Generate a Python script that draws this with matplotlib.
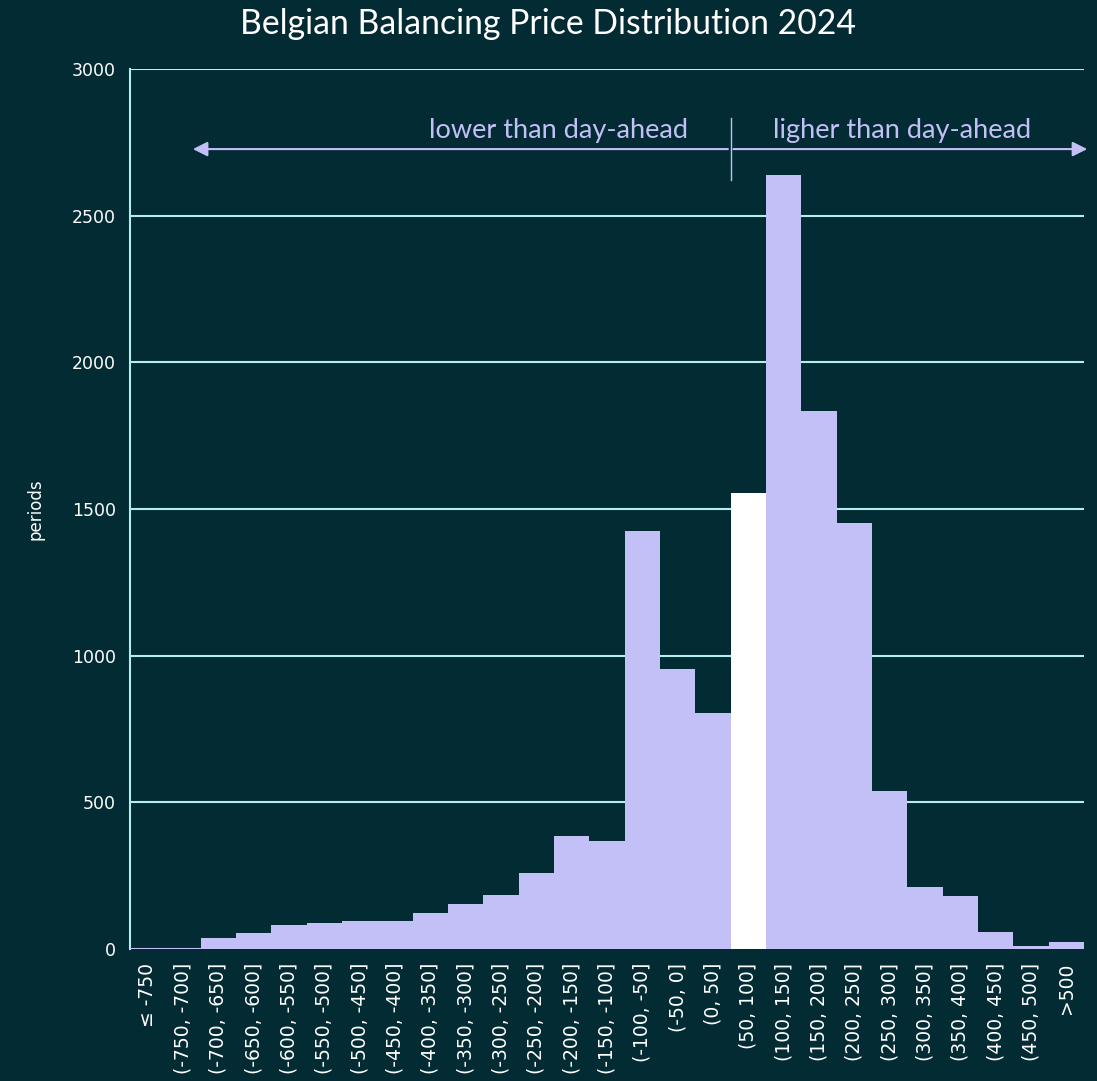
import matplotlib.pyplot as plt

# Balancing price bins (EUR/MWh difference vs day-ahead) and counts
bins = ['≤ -750', '(-750, -700]', '(-700, -650]', '(-650, -600]', '(-600, -550]',
        '(-550, -500]', '(-500, -450]', '(-450, -400]', '(-400, -350]', '(-350, -300]',
        '(-300, -250]', '(-250, -200]', '(-200, -150]', '(-150, -100]', '(-100, -50]',
        '(-50, 0]', '(0, 50]', '(50, 100]', '(100, 150]', '(150, 200]', '(200, 250]',
        '(250, 300]', '(300, 350]', '(350, 400]', '(400, 450]', '(450, 500]', '>500']
periods = [5, 5, 37, 55, 82, 89, 95, 95, 123, 153, 184, 259, 385, 368, 1425,
           955, 805, 1555, 2639, 1834, 1452, 539, 211, 181, 58, 10, 24]
highlight = '(50, 100]'

bg = '#022b33'
bar_col = '#c3bff7'
grid_col = '#b5eeee'

fig = plt.figure(figsize=(10.97, 10.81), dpi=100, facecolor=bg)
ax = fig.add_axes([130 / 1097, 1 - 949 / 1081, 954 / 1097, 880 / 1081])
ax.set_facecolor(bg)

colors = ['white' if b == highlight else bar_col for b in bins]
x = range(len(bins))
ax.bar(x, periods, width=1.0, color=colors, zorder=3)

ax.set_xlim(-0.5, len(bins) - 0.5)
ax.set_ylim(0, 3000)
ax.set_yticks(range(0, 3001, 500))
ax.set_xticks(list(x))
ax.set_xticklabels(bins, rotation=90, fontsize=13.5, color='white')
ax.tick_params(axis='y', colors='white', labelsize=12.5, length=0, pad=10)
ax.tick_params(axis='x', length=0, pad=10)
ax.yaxis.grid(True, color=grid_col, linewidth=1.5, zorder=1)
for s in ['top', 'right', 'bottom']:
    ax.spines[s].set_visible(False)
ax.spines['left'].set_color(grid_col)
ax.spines['left'].set_linewidth(1.5)

ax.set_ylabel('periods', color='white', fontsize=12)
ax.yaxis.set_label_coords(-0.09, 0.5)
fig.text(0.5, 1 - 24 / 1081, 'Belgian Balancing Price Distribution 2024',
         ha='center', va='center', color='white', fontsize=24.3, family='Lato')

# direction annotation
split = 16.5
ax.annotate('', xy=(1.2, 2727), xytext=(split, 2727),
            arrowprops=dict(arrowstyle='-|>', color=bar_col, lw=1.5, mutation_scale=22),
            annotation_clip=False)
ax.annotate('', xy=(26.67, 2727), xytext=(split, 2727),
            arrowprops=dict(arrowstyle='-|>', color=bar_col, lw=1.5, mutation_scale=22),
            annotation_clip=False)
ax.plot([split, split], [2622, 2833], color=bar_col, lw=1, clip_on=False)
ax.text(split - 1.2, 2790, 'lower than day-ahead', ha='right', va='center',
        color=bar_col, fontsize=19.5, family='Lato')
ax.text(split + 1.2, 2790, 'ligher than day-ahead', ha='left', va='center',
        color=bar_col, fontsize=19.5, family='Lato')

fig.savefig('out.png', facecolor=bg)
